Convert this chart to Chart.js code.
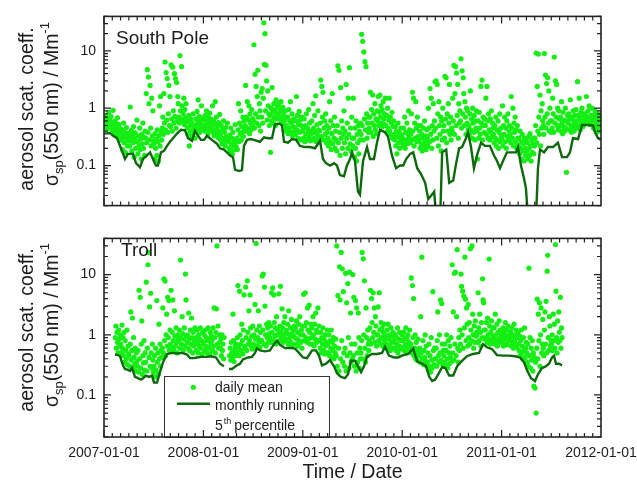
<!DOCTYPE html>
<html><head><meta charset="utf-8">
<script src="https://cdn.jsdelivr.net/npm/chart.js@4.4.0/dist/chart.umd.min.js"></script>
<style>
html,body{margin:0;padding:0;background:#fff;overflow:hidden;}
#wrap{position:relative;width:637px;height:489px;overflow:hidden;}
#c1{position:absolute;left:0;top:0;}
#c2{position:absolute;left:0;top:222px;}
</style></head><body>
<div id="wrap"><canvas id="c1" width="660" height="222"></canvas><canvas id="c2" width="660" height="267"></canvas></div>
<script>
// ---------- DATA ----------
const years = [2007, 2008, 2009, 2010, 2011];
const xTickYears = [2007, 2008, 2009, 2010, 2011, 2012];
const yTickValues = [0.1, 1, 10];
// daily means, sampled every ~2 days (15 values per month), South Pole
const sp2007 = [
0.55,0.62,0.48,0.71,0.52,0.44,0.66,0.58,0.85,0.5,0.61,0.47,0.72,0.56,0.42,
0.51,0.92,0.45,0.38,0.6,0.42,0.55,0.33,0.48,0.68,0.4,0.36,0.52,0.31,0.44,
0.35,0.28,0.42,0.19,0.31,0.55,0.25,0.38,0.17,0.33,0.46,0.29,0.22,0.36,0.27,
0.32,0.22,1.05,0.29,0.41,0.18,0.34,0.25,0.48,0.14,0.3,0.37,0.2,0.26,0.62,
0.26,0.16,0.33,0.22,0.45,0.19,0.29,0.13,0.35,0.24,0.55,0.2,0.31,0.15,0.4,
0.3,1.8,0.25,4.7,0.38,3.5,1.2,0.28,2.5,0.45,0.22,1.5,0.33,0.9,0.27,
0.24,0.13,0.36,0.2,0.29,0.15,0.42,0.26,0.12,0.33,1.1,0.22,1.6,0.38,0.28,
0.45,0.7,0.35,1.8,0.55,6.4,0.42,4.2,0.62,3.3,0.38,0.8,2.5,0.5,1.6,
0.48,5.7,0.65,0.4,5.2,0.9,0.55,4.0,0.72,3.3,0.45,2.8,0.6,1.6,1.2,
0.7,0.55,8.3,0.9,0.65,5.3,1.1,0.6,0.8,1.5,0.52,0.95,0.68,1.2,0.58,
0.45,0.6,0.35,0.75,0.22,0.5,0.4,0.65,0.32,0.55,0.42,0.8,0.38,0.48,0.3,
0.5,0.65,0.42,0.88,0.55,1.4,0.46,0.72,0.38,0.6,0.52,1.1,0.44,0.68,0.5];
const sp2008 = [
0.48,0.62,0.4,0.75,0.52,0.9,0.44,0.58,0.36,0.68,0.5,0.82,0.42,0.55,0.64,
0.45,1.1,0.38,0.6,0.33,0.52,1.3,0.42,0.7,0.36,0.48,0.31,0.56,0.4,0.78,
0.35,0.28,0.5,0.24,0.42,0.3,0.6,0.26,0.38,0.22,0.46,0.32,0.27,0.55,0.3,
0.26,0.2,0.34,0.18,0.45,0.24,0.3,0.16,0.38,0.22,0.28,0.19,0.52,0.25,0.21,
0.3,0.19,0.42,1.2,0.26,0.55,0.35,0.9,0.28,0.48,0.38,0.7,0.32,0.6,0.44,
0.5,2.5,0.4,0.7,1.3,0.45,0.62,1.1,0.36,0.8,0.55,0.42,0.95,0.5,0.66,
0.6,12.8,0.45,3.9,0.8,2.4,0.55,1.6,4.6,0.7,0.5,1.2,0.9,0.4,1.9,
0.7,2.2,0.55,1.5,31,5.8,20,0.9,5.6,3.0,0.62,2.0,1.1,0.8,0.5,
0.75,0.17,1.0,0.6,2.3,0.85,0.55,1.2,0.7,0.95,0.5,1.4,0.65,0.8,1.1,
0.8,1.2,0.65,0.95,0.7,1.3,0.6,0.88,1.05,0.55,0.75,0.4,0.62,0.9,0.48,
0.5,0.42,0.7,0.36,0.95,0.45,0.6,1.3,0.38,0.55,0.8,0.33,0.48,0.65,0.4,
0.46,0.35,0.6,1.6,0.42,0.75,0.3,0.52,0.88,0.38,0.62,0.28,0.5,0.7,0.4];
const sp2009 = [
0.42,0.3,0.65,0.26,0.5,0.35,0.8,0.28,0.45,0.38,0.95,0.32,0.55,0.27,0.4,
0.36,0.6,0.28,1.2,0.45,0.3,0.75,0.38,1.65,0.26,0.52,0.34,0.9,0.42,0.3,
0.4,0.55,3.1,0.32,2.4,0.7,1.9,0.28,0.45,0.6,0.35,0.8,0.25,0.5,0.38,
0.3,0.22,0.45,1.3,0.26,0.6,0.19,0.36,1.8,0.24,0.5,0.3,0.7,0.2,0.4,
0.28,0.18,0.5,5.5,0.25,4.6,0.38,0.15,2.3,0.3,0.6,0.2,0.45,0.35,0.9,
0.25,0.4,0.16,2.6,0.3,0.55,0.2,1.5,0.35,5.1,0.24,0.45,0.18,0.7,0.3,
0.22,1.5,0.3,0.14,0.45,0.2,0.6,0.12,0.35,0.25,0.5,0.16,0.4,0.28,0.55,
0.35,19.5,0.5,14.7,0.28,9.6,0.65,6.5,0.42,5.3,0.8,0.3,0.55,0.38,0.7,
0.45,0.7,1.9,0.38,0.95,0.55,1.7,0.32,0.8,0.5,1.2,0.42,0.65,0.36,0.9,
0.6,1.6,0.5,0.85,1.7,0.7,1.1,0.55,0.95,0.48,1.3,0.65,0.8,0.52,1.5,
0.5,0.75,0.38,1.0,0.45,0.62,1.5,0.4,0.7,0.35,0.55,0.85,0.3,0.48,0.6,
0.35,0.28,0.48,0.22,0.4,0.16,0.32,0.55,0.25,0.38,0.2,0.3,0.45,0.26,0.34];
const sp2010 = [
0.3,0.22,0.45,0.26,0.7,0.2,0.38,0.28,0.55,0.24,0.35,0.9,0.3,0.42,0.25,
0.35,0.8,0.28,1.9,0.4,1.5,0.22,0.55,0.3,1.3,0.45,0.26,0.7,0.32,0.5,
0.28,0.4,0.2,0.5,0.24,0.35,0.18,0.3,0.45,0.22,0.6,0.26,0.33,0.19,0.42,
0.3,0.22,1.0,0.45,0.26,2.2,0.35,1.5,0.2,0.5,0.28,1.2,0.4,0.6,2.9,
0.45,3.0,0.3,2.6,0.8,0.22,1.3,0.5,0.35,0.7,0.18,0.6,0.28,1.0,0.4,
0.5,0.3,3.6,0.65,3.4,0.25,0.8,0.4,1.2,0.55,2.6,0.35,0.7,0.28,0.45,
0.4,1.5,0.6,5.6,0.35,1.8,5.3,0.5,4.1,0.75,2.6,0.3,1.2,0.55,0.9,
0.6,7.3,0.45,4.5,0.8,3.4,1.8,0.5,1.3,0.7,0.35,1.0,0.55,0.9,0.42,
0.5,0.35,0.8,2.0,0.42,0.65,0.3,1.0,0.55,0.38,0.75,0.28,0.6,0.45,0.9,
0.4,0.13,0.6,0.3,0.85,0.45,0.35,2.4,0.55,3.1,0.28,0.7,0.5,0.38,0.65,
0.5,1.5,0.35,2.4,0.6,0.3,0.8,0.42,0.28,0.65,0.38,0.9,0.32,0.55,0.45,
0.35,0.25,0.5,0.3,0.7,0.22,0.42,0.28,0.6,0.2,0.38,0.8,0.26,0.45,0.33];
const sp2011 = [
0.3,1.1,0.22,0.5,0.35,0.7,0.26,0.45,0.2,0.6,0.32,0.8,0.28,0.4,0.5,
0.35,0.25,1.6,0.45,0.3,1.0,0.22,0.55,0.38,0.7,0.26,0.42,0.2,0.5,0.3,
0.22,0.3,0.16,0.4,0.2,0.26,0.13,0.35,0.18,0.24,0.12,0.3,0.2,0.15,0.28,
0.18,0.25,0.13,0.32,0.2,0.15,0.36,0.22,0.12,0.28,0.17,0.24,0.3,0.16,0.22,
0.3,0.5,9.2,0.25,2.4,0.4,8.8,0.7,0.35,1.7,0.22,0.9,0.45,1.2,0.6,
0.5,0.35,9.0,0.7,3.8,0.45,2.7,0.8,3.4,0.55,2.0,0.4,1.0,0.6,0.38,
0.6,0.45,1.5,0.8,0.38,7.8,0.55,3.0,0.7,2.6,0.5,1.0,0.42,0.9,0.65,
0.5,0.7,0.4,1.3,0.55,0.36,0.85,0.48,0.62,0.4,1.0,0.45,0.076,0.6,0.75,
0.55,0.8,0.42,0.65,1.4,0.5,0.38,0.7,0.45,0.9,0.6,0.4,0.75,0.52,0.95,
0.6,0.45,2.9,0.75,0.5,1.5,0.65,0.42,0.85,0.55,1.0,0.7,0.48,0.8,0.62,
0.65,0.8,0.55,1.6,0.7,0.6,0.9,0.58,1.1,0.68,0.52,0.75,0.62,1.0,0.72,
0.6,0.45,0.75,0.5,0.9,0.42,0.65,0.38,0.55,0.8,0.48,0.62,0.4,0.7,0.5];
// daily means, Troll
const tr2007 = [
null,null,null,null,null,null,null,null,null,null,null,null,null,null,null,
null,null,null,null,null,0.9,1.4,0.6,1.1,0.75,0.5,1.2,0.85,0.65,1.0,
0.7,0.5,1.45,0.6,0.9,0.45,1.1,0.35,0.8,0.55,0.4,1.2,0.32,0.65,0.48,
0.45,0.3,0.7,2.4,0.38,0.55,1.9,0.28,0.9,0.42,0.33,0.6,0.25,0.5,0.36,
0.3,0.55,0.24,5.5,0.4,4.2,0.28,0.7,1.7,0.22,0.45,0.34,0.8,0.26,0.5,
0.35,7.5,0.25,0.6,14.6,23.5,0.42,2.9,0.3,4.9,0.5,0.28,0.7,0.38,0.24,
0.3,0.45,0.2,0.6,0.26,3.7,0.35,0.5,0.22,1.5,0.4,0.7,0.3,0.55,0.42,
0.6,2.8,0.5,8.5,0.8,7.8,0.45,1.0,2.2,0.65,4.2,0.9,3.7,0.55,1.2,
0.7,5.5,0.6,1.1,3.8,0.8,0.55,2.5,0.95,0.65,1.3,0.75,0.5,1.0,0.85,
0.8,1.2,0.6,17.5,0.9,0.7,2.0,1.05,0.55,0.85,1.3,0.65,10.2,3.8,0.95,
0.75,1.0,0.6,2.3,0.85,0.55,1.2,0.7,1.9,0.9,0.5,1.1,0.65,0.8,1.3,
0.7,0.9,0.55,1.2,0.75,0.5,1.0,0.65,0.85,1.3,0.6,0.8,0.48,1.1,0.72];
const tr2008 = [
0.75,1.0,0.55,1.2,0.65,0.9,0.5,0.8,1.3,0.6,0.85,0.48,1.1,0.7,0.95,
0.8,0.55,1.3,0.65,2.8,0.9,0.5,1.1,2.7,30,0.7,1.4,0.6,1.0,0.75,
0.6,0.85,0.45,1.0,0.55,0.7,0.4,0.9,null,null,null,null,null,null,null,
null,null,0.45,0.6,0.38,0.75,0.5,0.42,2.2,0.8,0.36,0.55,0.65,0.45,0.7,
0.5,0.9,6.6,0.6,0.45,5.3,1.0,0.7,0.55,1.5,0.8,0.48,1.2,4.6,0.65,
0.6,6.2,0.9,0.55,7.9,1.1,0.7,2.5,0.8,4.6,1.3,0.65,0.95,0.58,1.4,
0.7,1.0,0.6,3.2,0.85,33,1.2,0.65,0.9,2.5,0.75,1.4,0.62,1.1,0.8,
0.8,9.5,1.2,10.2,0.7,6.2,3.0,1.0,0.65,1.5,0.9,1.3,0.75,1.6,1.05,
0.9,1.4,0.75,5.0,1.1,6.0,0.8,4.6,1.6,0.95,1.3,0.7,2.0,1.0,1.2,
1.0,4.8,0.8,1.4,6.4,1.1,0.9,2.7,1.3,0.75,1.6,1.0,2.0,0.85,1.2,
1.1,0.8,1.5,0.7,2.5,1.0,0.9,1.3,0.75,1.8,1.05,0.68,1.2,0.95,1.4,
0.9,1.3,0.7,1.7,0.85,1.1,0.65,1.5,0.8,2.0,1.0,0.75,1.2,0.6,1.4];
const tr2009 = [
1.0,4.7,0.8,1.4,5.0,0.9,1.6,0.75,2.8,1.2,0.85,3.1,1.1,0.7,1.5,
0.9,1.3,0.7,2.0,1.0,0.65,1.5,0.85,2.3,1.2,0.75,1.1,2.8,0.8,1.4,
0.8,0.6,1.1,0.5,0.9,0.7,1.3,0.55,0.85,0.48,1.0,0.65,0.75,0.5,1.2,
0.7,0.5,1.0,0.45,0.8,0.6,1.2,0.42,0.75,0.55,0.9,0.4,0.65,0.5,0.85,
0.45,30,0.3,4.5,0.6,0.25,13.5,3.8,0.4,23.4,0.8,12.5,0.35,5.2,0.5,
0.3,0.6,10.5,0.25,3.4,0.45,7.1,0.9,0.28,11.0,0.5,2.3,0.35,0.7,0.4,
10.0,0.45,4.2,0.3,0.7,3.7,0.25,2.8,0.5,0.35,2.3,0.9,0.28,0.6,0.4,
0.5,0.8,23.4,0.4,18.3,1.0,7.9,0.6,0.35,2.8,0.9,0.45,1.2,0.7,0.55,
0.8,1.3,5.5,0.7,4.0,1.6,0.9,5.0,1.1,2.8,0.75,2.0,1.4,0.65,1.0,
1.0,2.9,0.8,5.0,1.2,0.7,1.6,0.9,1.3,0.65,1.1,0.85,1.5,0.75,1.0,
0.9,0.7,1.2,0.6,1.5,0.85,0.65,1.0,0.55,1.3,0.75,0.95,0.6,1.1,0.8,
0.75,0.6,1.0,0.55,0.9,0.7,1.3,0.5,0.85,0.65,1.1,0.58,0.8,0.62,1.0];
const tr2010 = [
0.8,0.6,1.1,0.55,0.9,0.7,1.3,0.5,0.85,0.65,1.0,0.58,0.75,1.2,0.62,
0.7,8.8,0.5,6.6,0.9,4.0,0.45,0.6,1.0,0.4,0.75,0.38,0.55,0.85,0.5,
0.45,0.6,0.35,2.0,0.5,19.5,0.4,0.8,0.32,0.55,0.42,1.0,0.36,0.65,0.3,
0.35,0.5,0.26,0.7,0.3,0.45,0.24,0.9,0.38,0.28,5.2,0.55,0.32,0.6,0.4,
0.4,0.6,0.3,0.8,2.4,0.45,0.35,1.0,0.5,3.8,0.38,3.3,0.7,0.32,0.55,
0.45,0.35,0.7,0.3,0.55,1.0,0.4,0.28,0.8,0.5,0.33,0.65,0.42,0.9,0.36,
14.6,0.5,2.4,0.38,10.5,0.7,11.0,0.45,2.0,26,0.6,0.35,0.9,0.55,1.2,
0.7,10.2,6.4,1.0,5.3,0.6,4.4,1.3,19.5,3.9,0.8,2.8,1.5,0.65,3.2,
0.9,1.6,0.7,27,1.2,0.8,30,2.2,1.0,0.6,1.4,0.75,1.7,0.95,1.1,
1.0,0.75,5.0,1.3,0.8,2.2,1.1,0.65,1.6,0.9,8.5,3.8,3.4,1.2,0.85,
1.2,0.9,1.6,0.75,1.9,1.0,0.85,18.2,1.4,0.7,1.1,1.7,0.8,1.3,0.95,
0.9,1.3,0.7,2.2,1.0,0.8,1.5,0.65,1.1,0.85,1.7,0.75,1.2,0.9,1.0];
const tr2011 = [
1.0,0.75,1.3,0.65,1.1,0.85,1.6,0.7,0.95,1.2,0.68,1.4,0.8,1.0,0.9,
0.85,1.1,0.65,1.3,0.75,0.95,0.6,1.5,0.8,1.0,0.7,1.2,0.62,0.9,1.05,
0.7,0.55,0.95,0.45,0.8,1.2,0.5,0.65,0.4,0.9,0.55,1.3,0.42,0.6,0.75,
0.5,0.35,0.7,0.3,12.8,0.45,0.9,0.28,0.6,0.38,0.8,0.25,0.5,0.14,0.42,
0.13,0.35,0.05,0.6,3.9,0.4,2.2,0.8,3.4,0.3,1.0,2.8,0.5,0.7,1.8,
0.6,0.45,1.2,2.4,0.7,3.6,0.5,11.4,21,0.9,0.55,2.0,1.4,0.65,0.8,
0.7,1.0,0.55,2.2,0.8,1.5,0.6,31.7,5.3,0.9,0.5,1.7,0.75,2.4,1.1,
0.8,4.2,0.6,1.3,0.9];
// monthly running 5th percentile (decimal year, value)
const spLineT = [2007.000,2007.060,2007.091,2007.131,2007.171,2007.211,2007.241,2007.292,2007.322,2007.362,2007.392,2007.433,2007.463,2007.493,2007.523,2007.543,2007.573,2007.604,2007.634,2007.664,2007.694,2007.734,2007.775,2007.815,2007.845,2007.885,2007.915,2007.946,2007.976,
2008.006,2008.036,2008.066,2008.097,2008.137,2008.167,2008.207,2008.237,2008.268,2008.298,2008.318,2008.358,2008.388,2008.408,2008.439,2008.479,2008.509,2008.539,2008.569,2008.610,2008.650,2008.690,2008.720,2008.761,2008.791,2008.811,2008.851,2008.891,2008.932,2008.972,
2009.022,2009.072,2009.123,2009.173,2009.203,2009.233,2009.274,2009.314,2009.344,2009.374,2009.414,2009.444,2009.475,2009.495,2009.525,2009.555,2009.575,2009.606,2009.646,2009.676,2009.716,2009.746,2009.777,2009.827,2009.857,2009.897,2009.938,2009.978,
2010.010,2010.040,2010.080,2010.111,2010.151,2010.191,2010.231,2010.262,2010.292,2010.322,2010.342,2010.382,2010.402,2010.443,2010.473,2010.513,2010.543,2010.573,2010.602,2010.642,2010.662,2010.692,2010.722,2010.752,2010.793,2010.833,2010.883,2010.924,2010.954,2010.984,
2011.014,2011.054,2011.105,2011.145,2011.165,2011.195,2011.225,2011.245,2011.266,2011.346,2011.366,2011.386,2011.427,2011.467,2011.517,2011.567,2011.608,2011.658,2011.688,2011.718,2011.769,2011.809,2011.869,2011.920,2011.940,2011.970,2012.000];
const spLineV = [0.36,0.37,0.33,0.30,0.20,0.13,0.16,0.16,0.11,0.093,0.13,0.15,0.17,0.13,0.10,0.10,0.17,0.18,0.22,0.26,0.30,0.36,0.42,0.41,0.30,0.27,0.40,0.33,0.28,
0.28,0.33,0.30,0.27,0.24,0.20,0.19,0.17,0.15,0.14,0.085,0.080,0.083,0.22,0.28,0.29,0.28,0.27,0.26,0.31,0.30,0.30,0.52,0.54,0.50,0.26,0.25,0.29,0.28,0.22,
0.21,0.21,0.20,0.27,0.13,0.11,0.10,0.11,0.10,0.068,0.065,0.10,0.13,0.17,0.12,0.035,0.031,0.12,0.21,0.13,0.13,0.25,0.42,0.38,0.32,0.15,0.09,0.10,
0.10,0.13,0.16,0.17,0.09,0.07,0.05,0.026,0.03,0.035,0.012,0.012,0.17,0.19,0.05,0.055,0.11,0.20,0.21,0.30,0.38,0.21,0.09,0.15,0.25,0.22,0.22,0.15,0.12,0.09,
0.12,0.17,0.17,0.17,0.21,0.10,0.06,0.04,0.012,0.012,0.09,0.19,0.17,0.21,0.21,0.25,0.14,0.14,0.17,0.30,0.29,0.51,0.51,0.50,0.38,0.30,0.28];
const trLineT = [2007.111,2007.141,2007.161,2007.191,2007.211,2007.241,2007.262,2007.282,2007.312,2007.342,2007.372,2007.392,2007.423,2007.453,2007.483,2007.503,2007.533,2007.563,2007.594,2007.634,2007.684,2007.734,2007.785,2007.835,2007.865,2007.905,2007.936,2007.976,
2008.026,2008.076,2008.127,2008.167,2008.207,2008.230,2008.258,2008.288,2008.338,2008.368,2008.398,2008.449,2008.489,2008.519,2008.539,2008.569,2008.620,2008.670,2008.710,2008.740,2008.771,2008.821,2008.871,2008.922,2008.962,
2009.002,2009.042,2009.093,2009.133,2009.163,2009.193,2009.233,2009.274,2009.314,2009.344,2009.384,2009.425,2009.455,2009.485,2009.525,2009.555,2009.586,2009.616,2009.646,2009.696,2009.746,2009.797,2009.827,2009.867,2009.918,2009.958,
2010.010,2010.060,2010.111,2010.151,2010.201,2010.241,2010.272,2010.302,2010.332,2010.362,2010.402,2010.433,2010.473,2010.513,2010.553,2010.602,2010.652,2010.712,2010.773,2010.813,2010.853,2010.903,2010.954,
2011.014,2011.074,2011.135,2011.185,2011.225,2011.255,2011.296,2011.336,2011.366,2011.406,2011.447,2011.477,2011.507,2011.527,2011.547,2011.577,2011.608];
const trLineV = [0.47,0.46,0.44,0.31,0.27,0.26,0.25,0.28,0.20,0.19,0.18,0.19,0.21,0.20,0.21,0.16,0.16,0.24,0.35,0.48,0.50,0.49,0.50,0.47,0.41,0.41,0.42,0.43,
0.43,0.44,0.42,0.33,0.30,null,0.27,0.27,0.31,0.33,0.39,0.42,0.43,0.50,0.59,0.55,0.53,0.55,0.70,0.80,0.68,0.60,0.61,0.59,0.50,
0.42,0.41,0.55,0.55,0.45,0.31,0.33,0.38,0.30,0.23,0.20,0.19,0.22,0.37,0.37,0.30,0.24,0.30,0.43,0.48,0.48,0.50,0.63,0.45,0.42,0.42,
0.46,0.48,0.59,0.36,0.33,0.30,0.20,0.17,0.18,0.22,0.29,0.28,0.21,0.21,0.30,0.37,0.44,0.48,0.50,0.70,0.62,0.58,0.46,
0.45,0.45,0.44,0.42,0.35,0.26,0.19,0.17,0.22,0.28,0.30,0.33,0.42,0.45,0.33,0.33,0.31];

// ---------- RENDERING ----------
const FONT = '"Liberation Sans", Arial, Helvetica, sans-serif';
const TXT = '#1c1c1c';
const DOT = '#14ee14';
const LINE = '#0c690c';

function toDots(arrays) {
  const out = [];
  arrays.forEach((arr, k) => arr.forEach((v, i) => {
    if (v !== null) out.push({x: years[k] + (i + 0.5) / 180, y: v});
  }));
  return out;
}
function toLine(T, V) { return T.map((t, i) => ({x: t, y: V[i]})); }

function drawYTitle(ctx, cy1, cy2) {
  ctx.save();
  ctx.fillStyle = TXT; ctx.textBaseline = 'alphabetic';
  ctx.translate(33, cy1); ctx.rotate(-Math.PI / 2);
  ctx.font = '19.5px ' + FONT; ctx.textAlign = 'center';
  ctx.fillText('aerosol scat. coeff.', 0, 0);
  ctx.restore();
  const parts = [['σ', 19.5, 0], ['sp', 13, 5], ['(550 nm) / Mm', 19.5, 0], ['-1', 13, -9]];
  ctx.save();
  ctx.fillStyle = TXT; ctx.textBaseline = 'alphabetic'; ctx.textAlign = 'left';
  ctx.translate(58, cy2); ctx.rotate(-Math.PI / 2);
  let w = 0;
  parts.forEach(p => { ctx.font = p[1] + 'px ' + FONT; w += ctx.measureText(p[0]).width; });
  let xx = -w / 2;
  parts.forEach(p => { ctx.font = p[1] + 'px ' + FONT; ctx.fillText(p[0], xx, p[2]); xx += ctx.measureText(p[0]).width; });
  ctx.restore();
}

const panelPlugin = {
  id: 'panel',
  afterDatasetsDraw(chart, args, o) {
    const {ctx, chartArea: a, scales: {x, y}} = chart;
    ctx.save();
    if (o.legend) {
      ctx.fillStyle = '#fff';
      ctx.fillRect(164, 154, 165, 61);
      ctx.strokeStyle = '#333'; ctx.lineWidth = 1;
      ctx.strokeRect(164.5, 154.5, 165, 61);
      ctx.fillStyle = DOT;
      ctx.beginPath(); ctx.arc(193.3, 165.3, 2.6, 0, 2 * Math.PI); ctx.fill();
      ctx.strokeStyle = LINE; ctx.lineWidth = 2.4;
      ctx.beginPath(); ctx.moveTo(177, 181.7); ctx.lineTo(210, 181.7); ctx.stroke();
      ctx.fillStyle = TXT; ctx.textAlign = 'left'; ctx.textBaseline = 'alphabetic';
      ctx.font = '14px ' + FONT;
      ctx.fillText('daily mean', 215, 170.3);
      ctx.fillText('monthly running', 215, 188);
      ctx.fillText('5', 215, 208);
      const w5 = ctx.measureText('5').width;
      ctx.font = '9px ' + FONT;
      ctx.fillText('th', 215 + w5 + 1, 202);
      const wth = ctx.measureText('th').width;
      ctx.font = '14px ' + FONT;
      ctx.fillText('percentile', 215 + w5 + 1 + wth + 3, 208);
    }
    // inward ticks on all four sides
    ctx.strokeStyle = '#222'; ctx.lineWidth = 1.2;
    ctx.beginPath();
    for (let yr = xTickYears[0]; yr < xTickYears[xTickYears.length - 1]; yr++) {
      for (let m = 0; m < 12; m++) {
        const px = x.getPixelForValue(yr + m / 12), L = m === 0 ? 7 : 4;
        ctx.moveTo(px, a.bottom); ctx.lineTo(px, a.bottom - L);
        ctx.moveTo(px, a.top); ctx.lineTo(px, a.top + L);
      }
    }
    for (let e = -2; e <= 1; e++) for (let d = 1; d <= 9; d++) {
      const v = d * Math.pow(10, e);
      if (v < y.min || v > y.max) continue;
      const py = y.getPixelForValue(v), L = d === 1 ? 7 : 4;
      ctx.moveTo(a.left, py); ctx.lineTo(a.left + L, py);
      ctx.moveTo(a.right, py); ctx.lineTo(a.right - L, py);
    }
    ctx.stroke();
    ctx.lineWidth = 1.6; ctx.strokeStyle = '#222';
    ctx.strokeRect(a.left, a.top, a.right - a.left, a.bottom - a.top);
    ctx.fillStyle = TXT; ctx.font = '19px ' + FONT; ctx.textAlign = 'left'; ctx.textBaseline = 'alphabetic';
    ctx.fillText(o.label, o.labelX, o.labelY);
    ctx.restore();
    drawYTitle(ctx, o.t1, o.t2);
  }
};

function makeChart(id, dotData, lineData, bottomAxis, panelOpts) {
  return new Chart(document.getElementById(id), {
    type: 'scatter',
    data: {datasets: [
      {type: 'line', label: 'monthly running 5th percentile', data: lineData, borderColor: LINE, borderWidth: 2.4,
       pointRadius: 0, tension: 0, fill: false, spanGaps: false},
      {type: 'scatter', label: 'daily mean', data: dotData, pointRadius: 2.6, pointBorderWidth: 0,
       pointBackgroundColor: DOT, borderColor: DOT, backgroundColor: DOT, pointHoverRadius: 2.6}
    ]},
    options: {
      responsive: false, animation: false, devicePixelRatio: 1, events: [],
      layout: {padding: {left: 0, right: 59, top: bottomAxis ? 5 : 15, bottom: 0}},
      plugins: {legend: {display: false}, tooltip: {enabled: false}, panel: panelOpts},
      scales: {
        x: {type: 'linear', min: 2007, max: 2012,
          grid: {display: false, drawTicks: false}, border: {display: false},
          afterBuildTicks(s) { s.ticks = xTickYears.map(v => ({value: v})); },
          ticks: {display: bottomAxis, padding: 8, color: TXT, font: {family: FONT, size: 14}, maxRotation: 0, autoSkip: false,
            callback: v => v + '-01-01'},
          title: {display: bottomAxis, text: 'Time / Date', color: TXT, font: {family: FONT, size: 19.5}, padding: {top: 0, bottom: 5}},
          afterFit(s) { s.height = bottomAxis ? 52 : 11; }
        },
        y: {type: 'logarithmic', min: 0.02, max: 40,
          grid: {display: false, drawTicks: false}, border: {display: false},
          afterBuildTicks(s) { s.ticks = yTickValues.map(v => ({value: v})); },
          ticks: {padding: 8, color: TXT, font: {family: FONT, size: 14}, callback: v => String(v)},
          afterFit(s) { s.width = 104; }
        }
      }
    },
    plugins: [panelPlugin]
  });
}

makeChart('c1', toDots([sp2007, sp2008, sp2009, sp2010, sp2011]), toLine(spLineT, spLineV), false,
  {label: 'South Pole', labelX: 116, labelY: 44, t1: 109, t2: 104, legend: false});
makeChart('c2', toDots([tr2007, tr2008, tr2009, tr2010, tr2011]), toLine(trLineT, trLineV), true,
  {label: 'Troll', labelX: 121, labelY: 34.3, t1: 108, t2: 103, legend: true});
</script>
</body></html>
